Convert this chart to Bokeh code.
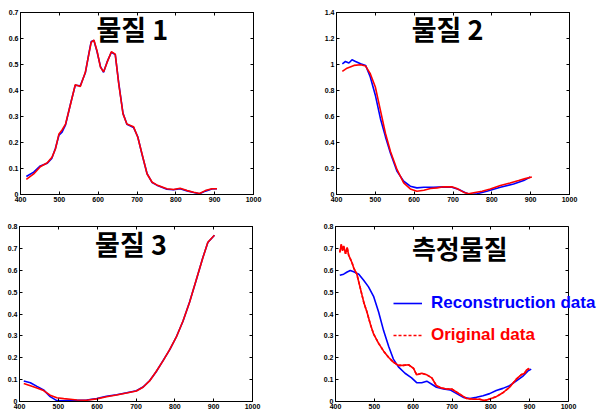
from bokeh.plotting import figure
from bokeh.layouts import column, row
from bokeh.models import LinearAxis, Label, Legend, LegendItem, Range1d, FixedTicker
from bokeh.embed import file_html
from bokeh.resources import INLINE

# ---------------- data ----------------
x_ticks = [400, 500, 600, 700, 800, 900, 1000]

titles = ["물질 1", "물질 2", "물질 3", "측정물질"]

# 물질 1
s1_x = [415, 434, 451, 469, 481, 490, 499, 507, 516, 529, 541, 554, 567, 576, 582, 589, 597, 606, 614,
        623, 634, 644, 653, 664, 674, 691, 702, 713, 726, 739, 751, 777, 794, 811, 829, 846, 861, 876, 893, 906]
s1_orig = [0.058, 0.079, 0.107, 0.122, 0.143, 0.175, 0.233, 0.248, 0.271, 0.348, 0.422, 0.415, 0.470, 0.540,
           0.585, 0.594, 0.553, 0.489, 0.472, 0.508, 0.549, 0.540, 0.425, 0.310, 0.271, 0.261, 0.220, 0.156,
           0.079, 0.047, 0.037, 0.022, 0.019, 0.024, 0.015, 0.009, 0.004, 0.015, 0.022, 0.022]
s1_recon = [0.069, 0.086, 0.110, 0.120, 0.140, 0.178, 0.228, 0.240, 0.268, 0.350, 0.420, 0.418, 0.468, 0.542,
            0.588, 0.592, 0.550, 0.492, 0.470, 0.510, 0.547, 0.538, 0.428, 0.312, 0.270, 0.258, 0.222, 0.154,
            0.080, 0.046, 0.036, 0.020, 0.018, 0.022, 0.014, 0.008, 0.003, 0.013, 0.021, 0.022]

# 물질 2
s2_orig_x = [415, 427, 445, 462, 475, 487, 500, 513, 526, 539, 556, 573, 590, 607, 625, 642, 659, 676, 697,
             710, 727, 740, 753, 775, 796, 822, 847, 869, 886, 903]
s2_orig = [0.947, 0.972, 0.993, 0.998, 0.988, 0.929, 0.827, 0.649, 0.471, 0.331, 0.191, 0.089, 0.043, 0.025,
           0.033, 0.046, 0.051, 0.059, 0.059, 0.046, 0.018, 0.005, 0.013, 0.025, 0.043, 0.069, 0.089, 0.107,
           0.122, 0.135]
s2_recon_x = [415, 423, 432, 440, 449, 462, 475, 487, 500, 513, 526, 539, 556, 573, 590, 607, 625, 650, 676,
              697, 715, 732, 745, 762, 787, 822, 856, 882, 899]
s2_recon = [1.005, 1.023, 1.011, 1.036, 1.023, 1.005, 0.993, 0.904, 0.764, 0.585, 0.445, 0.318, 0.178, 0.102,
            0.064, 0.051, 0.056, 0.056, 0.059, 0.056, 0.038, 0.013, 0.0, 0.005, 0.025, 0.056, 0.081, 0.107, 0.135]

# 물질 3
s3_x = [411, 428, 445, 462, 479, 496, 514, 531, 548, 573, 599, 624, 650, 676, 701, 718, 735, 752, 770, 787,
        804, 821, 838, 855, 872, 885, 902]
s3_orig = [0.082, 0.072, 0.062, 0.050, 0.029, 0.017, 0.013, 0.010, 0.007, 0.006, 0.012, 0.022, 0.030, 0.039,
           0.048, 0.065, 0.094, 0.137, 0.187, 0.238, 0.295, 0.368, 0.454, 0.555, 0.656, 0.728, 0.760]
s3_recon = [0.094, 0.086, 0.069, 0.053, 0.022, 0.004, 0.003, 0.007, 0.006, 0.007, 0.014, 0.024, 0.031, 0.040,
            0.049, 0.066, 0.095, 0.136, 0.188, 0.237, 0.296, 0.367, 0.455, 0.554, 0.657, 0.727, 0.760]

# 측정물질
s4_orig_x = [411, 415, 418, 421, 426, 430, 434, 438, 443, 447, 455, 464, 473, 481, 490, 498, 511, 524, 537,
             549, 562, 575, 588, 601, 609, 622, 635, 648, 660, 673, 686, 699, 712, 724, 737, 754, 771, 784,
             797, 814, 831, 848, 865, 878, 887, 892, 899]
s4_orig = [0.682, 0.718, 0.689, 0.711, 0.675, 0.704, 0.668, 0.653, 0.632, 0.610, 0.582, 0.517, 0.452, 0.409,
           0.352, 0.309, 0.266, 0.230, 0.201, 0.180, 0.165, 0.165, 0.168, 0.151, 0.122, 0.129, 0.122, 0.108,
           0.072, 0.062, 0.057, 0.057, 0.043, 0.029, 0.014, 0.011, 0.010, 0.004, 0.011, 0.022, 0.040, 0.065,
           0.101, 0.122, 0.129, 0.144, 0.151]
s4_recon_x = [411, 421, 430, 438, 447, 460, 473, 485, 498, 511, 524, 537, 549, 562, 579, 596, 609, 622, 635,
              648, 660, 678, 695, 712, 729, 746, 763, 780, 797, 814, 831, 848, 865, 882, 895, 904]
s4_recon = [0.577, 0.582, 0.592, 0.599, 0.593, 0.582, 0.553, 0.524, 0.481, 0.409, 0.323, 0.251, 0.194, 0.158,
            0.129, 0.108, 0.086, 0.086, 0.093, 0.079, 0.065, 0.057, 0.053, 0.036, 0.019, 0.014, 0.019, 0.026,
            0.036, 0.050, 0.060, 0.072, 0.093, 0.115, 0.139, 0.148]

x_min, x_max = 400, 1000
y_max = [0.7, 1.4, 0.8, 0.8]
y_ticks = [[0, 0.1, 0.2, 0.3, 0.4, 0.5, 0.6, 0.7],
           [0, 0.2, 0.4, 0.6, 0.8, 1, 1.2, 1.4],
           [0, 0.1, 0.2, 0.3, 0.4, 0.5, 0.6, 0.7, 0.8],
           [0, 0.1, 0.2, 0.3, 0.4, 0.5, 0.6, 0.7, 0.8]]
title_pos = [(688, 0.638), (686, 1.277), (687, 0.723), (720, 0.705)]

legend_labels = ["Reconstruction data", "Original data"]

BLUE = "#0000ff"
RED = "#ff0000"
TICK_FONT = "Liberation Sans"
LW = 1.6


def style_axis(ax, ticks, show_labels):
    ax.major_tick_in = 3
    ax.major_tick_out = 0
    ax.minor_tick_line_color = None
    ax.major_tick_line_color = "black"
    ax.axis_line_color = "black"
    ax.major_label_standoff = 2
    ax.major_label_text_font = TICK_FONT
    ax.major_label_text_font_style = "bold"
    ax.major_label_text_color = "black"
    ax.major_label_text_font_size = "7px"
    if not show_labels:
        ax.major_label_standoff = 0
        ax.major_label_overrides = {t: "" for t in ticks}


def make_panel(i, width, height, borders, wide=False):
    bl, br, bt, bb = borders
    frame_w = 233
    if wide:
        # frame runs to the right edge so that the legend text may pass the box
        x_end = x_max + (x_max - x_min) * (width - bl - br - frame_w) / frame_w
    else:
        x_end = x_max
    p = figure(width=width, height=height, output_backend="svg", toolbar_location=None,
               x_range=Range1d(x_min, x_end), y_range=Range1d(0, y_max[i]),
               min_border_left=bl, min_border_right=br, min_border_top=bt, min_border_bottom=bb)
    p.grid.visible = False
    p.outline_line_color = None if wide else "black"
    p.background_fill_color = "white"
    p.border_fill_color = "white"
    p.xaxis.ticker = FixedTicker(ticks=x_ticks)
    p.yaxis.ticker = FixedTicker(ticks=y_ticks[i])
    style_axis(p.xaxis[0], x_ticks, True)
    style_axis(p.yaxis[0], y_ticks[i], True)
    top = LinearAxis(ticker=FixedTicker(ticks=x_ticks))
    right = LinearAxis(ticker=FixedTicker(ticks=y_ticks[i]))
    style_axis(top, x_ticks, False)
    style_axis(right, y_ticks[i], False)
    if wide:
        p.xaxis[0].bounds = (x_min, x_max)
        top.bounds = (x_min, x_max)
        right.fixed_location = x_max
    p.add_layout(top, "above")
    p.add_layout(right, "right")
    lx, ly = title_pos[i]
    p.add_layout(Label(x=lx, y=ly, text=titles[i], text_align="center", text_baseline="middle",
                       text_font="Noto Sans CJK KR", text_font_style="bold",
                       text_font_size="26px" if i == 3 else "27px", text_color="black"))
    return p


p1 = make_panel(0, 300, 210, (20, 47, 12, 16))
p1.line(s1_x, s1_recon, line_color=BLUE, line_width=LW)
p1.line(s1_x, s1_orig, line_color=RED, line_width=LW)

p2 = make_panel(1, 298, 210, (36, 29, 12, 16))
p2.line(s2_recon_x, s2_recon, line_color=BLUE, line_width=LW)
p2.line(s2_orig_x, s2_orig, line_color=RED, line_width=LW)

p3 = make_panel(2, 300, 201, (19, 48, 16, 9))
p3.line(s3_x, s3_recon, line_color=BLUE, line_width=LW)
p3.line(s3_x, s3_orig, line_color=RED, line_width=LW)

p4 = make_panel(3, 298, 201, (35, 0, 16, 9), wide=True)
rb = p4.line(s4_recon_x, s4_recon, line_color=BLUE, line_width=LW)
p4.line(s4_orig_x, s4_orig, line_color=RED, line_width=LW)
rr = p4.line(s4_orig_x, s4_orig, line_color=RED, line_width=LW, line_dash="3 2")


def make_legend(renderer, label, color, loc):
    lg = Legend(items=[LegendItem(label=label, renderers=[renderer])], location=loc,
                padding=0, margin=0, spacing=0, glyph_width=29, glyph_height=20, label_height=20,
                label_standoff=9, border_line_color=None, background_fill_alpha=0,
                label_text_font="Liberation Sans", label_text_font_style="bold",
                label_text_font_size="17px", label_text_color=color)
    return lg


p4.add_layout(make_legend(rb, legend_labels[0], BLUE, (58, 88)))
p4.add_layout(make_legend(rr, legend_labels[1], RED, (58, 56)))

layout = column(row(p1, p2), row(p3, p4))

open("out.html", "w").write(file_html(layout, INLINE))
